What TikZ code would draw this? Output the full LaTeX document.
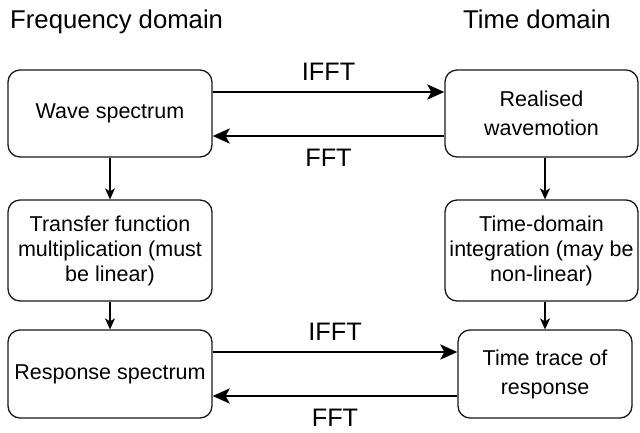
\documentclass[tikz,border=0pt]{standalone}
\usepackage{fontspec}
\setmainfont{Liberation Sans}
\usetikzlibrary{arrows.meta}

\tikzset{
  stage/.style={draw=black!90, line width=1.3pt, rounded corners=12pt,
    align=center, inner sep=0pt, font=\fontsize{21.5}{29}\selectfont},
  stagetall/.style={stage, font=\fontsize{21.5}{25}\selectfont},
  transform/.style={line width=2.6pt, -{Stealth[length=17pt,width=15pt,inset=4pt]}},
  flow/.style={line width=1.3pt, -{Stealth[length=11pt,width=10pt,inset=3pt]}},
  heading/.style={anchor=base west, inner sep=0pt, font=\fontsize{25.7}{30}\selectfont},
  translabel/.style={inner sep=0pt, font=\fontsize{25.3}{30}\selectfont}
}

\begin{document}
\begin{tikzpicture}[x=1pt, y=-1pt]
  \useasboundingbox (0,0) rectangle (640,432);
  % Column headings
  \node[heading] (freqhead) at (10,28) {Frequency domain};
  \node[heading] (timehead) at (463,28) {Time domain};
  % Frequency-domain stages (left)
  \node[stage, minimum width=204pt, minimum height=87pt] (wavespec)
    at (110,113.5) {Wave spectrum};
  \node[stagetall, minimum width=204pt, minimum height=101pt] (transfer)
    at (110,250.5) {Transfer function\\multiplication (must\\be linear)};
  \node[stage, minimum width=204pt, minimum height=88pt] (respspec)
    at (110,374) {Response spectrum};
  % Time-domain stages (right)
  \node[stage, minimum width=193pt, minimum height=87pt] (realised)
    at (541.5,113.5) {Realised\\wavemotion};
  \node[stagetall, minimum width=193pt, minimum height=101pt] (integ)
    at (541.5,250.5) {Time-domain\\integration (may be\\non-linear)};
  \node[stage, minimum width=174pt, minimum height=88pt] (trace)
    at (545,374) {Time trace of\\response};
  % Transforms between the domains
  \draw[transform] ([yshift=21.5pt]wavespec.east) -- ([yshift=21.5pt]realised.west)
    node[translabel, midway, above=10pt] (ifftup) {IFFT};
  \draw[transform] ([yshift=-22.5pt]realised.west) -- ([yshift=-22.5pt]wavespec.east)
    node[translabel, midway, below=12pt] (fftup) {FFT};
  \draw[transform] ([yshift=22pt]respspec.east) -- ([yshift=22pt]trace.west)
    node[translabel, midway, above=10pt] (ifftlow) {IFFT};
  \draw[transform] ([yshift=-22pt]trace.west) -- ([yshift=-22pt]respspec.east)
    node[translabel, midway, below=12pt] (fftlow) {FFT};
  % Flow inside each domain
  \draw[flow] (wavespec.south) -- (transfer.north);
  \draw[flow] (transfer.south) -- (respspec.north);
  \draw[flow] (realised.south -| trace.north) -- (integ.north -| trace.north);
  \draw[flow] (integ.south -| trace.north) -- (trace.north);
\end{tikzpicture}
\end{document}
